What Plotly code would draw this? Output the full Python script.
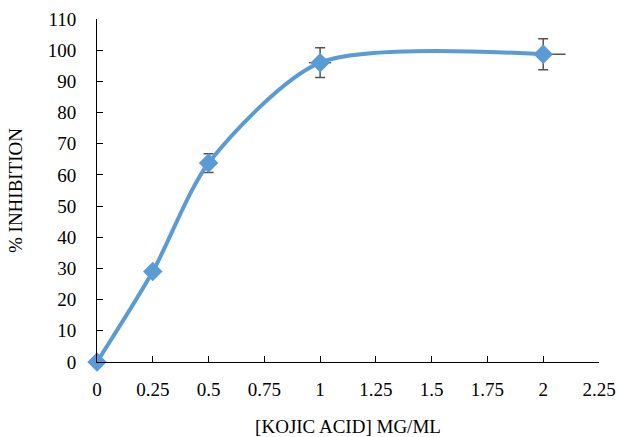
import plotly.graph_objects as go

conc = [0, 0.25, 0.5, 1, 2]
inhibition = [0, 29, 63.8, 96, 98.7]
err_y = [0, 1.2, 3, 4.8, 5]
err_x = [0, 0.03, 0.03, 0.05, 0.1]

x_ticks = [0, 0.25, 0.5, 0.75, 1, 1.25, 1.5, 1.75, 2, 2.25]
x_tick_labels = ["0", "0.25", "0.5", "0.75", "1", "1.25", "1.5", "1.75", "2", "2.25"]
y_ticks = list(range(0, 111, 10))

color = "#5B9BD5"
fig = go.Figure()
fig.add_trace(go.Scatter(
    x=conc, y=inhibition, mode="lines+markers",
    line=dict(color=color, width=4, shape="spline", smoothing=0.75),
    marker=dict(symbol="diamond", size=15, color=color),
    error_y=dict(type="data", array=err_y, visible=True, color="#555555", thickness=1.5, width=5),
    error_x=dict(type="data", array=err_x, visible=True, color="#555555", thickness=1.5, width=0),
    cliponaxis=False, showlegend=False,
))

font = dict(family="Times New Roman, Liberation Serif, serif", size=19, color="#000000")
fig.update_layout(
    width=619, height=437,
    margin=dict(l=97, r=20, t=19, b=75),
    paper_bgcolor="white", plot_bgcolor="white",
    font=font,
    xaxis=dict(range=[0, 2.25], tickvals=x_ticks, ticktext=x_tick_labels, automargin=False,
               showgrid=False, zeroline=False, showline=True, linecolor="#000000", linewidth=1,
               ticks="inside", ticklen=6, tickcolor="#000000", ticklabelstandoff=10,
               title=dict(text="[KOJIC ACID] MG/ML", font=font, standoff=25)),
    yaxis=dict(range=[0, 110], tickvals=y_ticks, automargin=False,
               showgrid=False, zeroline=False, showline=True, linecolor="#000000", linewidth=1,
               ticks="inside", ticklen=6, tickcolor="#000000", ticklabelstandoff=16,
               title=dict(text="% INHIBITION", font=font, standoff=20)),
)
fig.write_html("out.html")
